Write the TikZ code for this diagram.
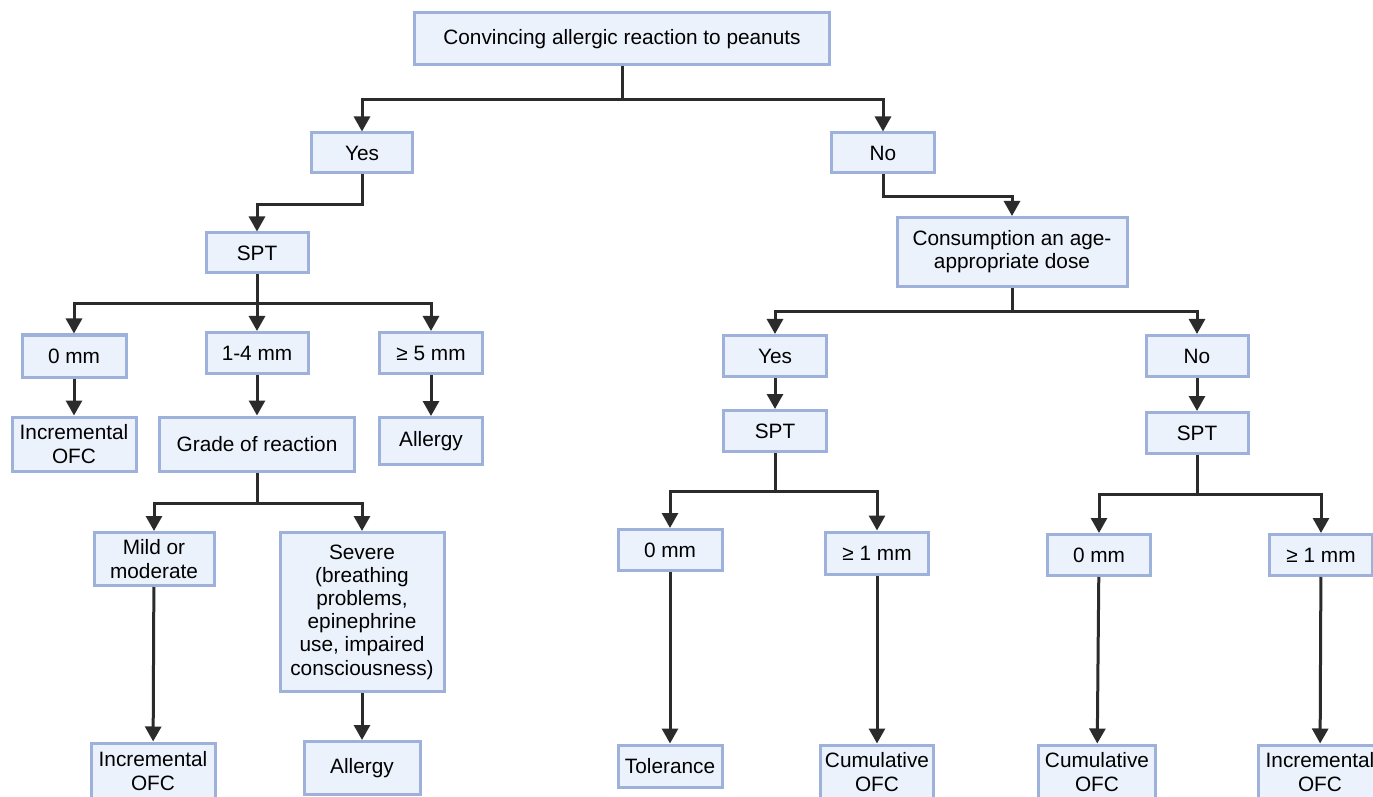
\documentclass[tikz,border=0pt]{standalone}
\usepackage{fontspec}
\setmainfont{Liberation Sans}
\usepackage{xcolor}
\usetikzlibrary{arrows.meta}
\definecolor{boxfill}{HTML}{EBF2FC}
\definecolor{boxline}{HTML}{9DB1DB}
\definecolor{linkgray}{HTML}{2B2B2B}

\begin{document}
\begin{tikzpicture}[x=0.5pt, y=-0.5pt,
  flowbox/.style={draw=boxline, fill=boxfill, line width=1.5pt, align=center, inner sep=0pt,
    font=\fontsize{10.4}{11.6}\selectfont},
  arr/.style={draw=linkgray, line width=1.5pt, -{Triangle[length=7.5pt,width=8pt]}}]
\clip (0,0) rectangle (1373,797);

\node[flowbox, minimum width=207.5pt, minimum height=26pt] (top) at (622, 39) {Convincing allergic reaction to peanuts};
\node[flowbox, minimum width=50.5pt, minimum height=20pt] (yesL) at (362, 153) {Yes};
\node[flowbox, minimum width=51.5pt, minimum height=20pt] (noL) at (883, 153) {No};
\node[flowbox, minimum width=51pt, minimum height=20pt] (sptL) at (257, 253) {SPT};
\node[flowbox, minimum width=115pt, minimum height=34.5pt] (consume) at (1012, 252) {Consumption an age-\\appropriate dose};

\node[flowbox, minimum width=52pt, minimum height=21pt] (zeroA) at (74, 356) {0 mm};
\node[flowbox, minimum width=51pt, minimum height=20.5pt] (oneFourA) at (257, 353) {1-4 mm};
\node[flowbox, minimum width=51.5pt, minimum height=20.5pt] (fiveA) at (431, 353) {≥ 5 mm};
\node[flowbox, minimum width=62pt, minimum height=27pt] (incA) at (74, 444) {Incremental\\OFC};
\node[flowbox, minimum width=97.5pt, minimum height=27pt] (grade) at (257, 444) {Grade of reaction};
\node[flowbox, minimum width=51.5pt, minimum height=23.5pt] (allergyA) at (431, 441) {Allergy};

\node[flowbox, minimum width=51.5pt, minimum height=20.5pt] (yesR) at (775, 356) {Yes};
\node[flowbox, minimum width=51pt, minimum height=20.5pt] (noR) at (1197, 356) {No};
\node[flowbox, minimum width=51.5pt, minimum height=20.5pt] (sptM) at (775, 431) {SPT};
\node[flowbox, minimum width=51pt, minimum height=20.5pt] (sptR) at (1197, 433) {SPT};

\node[flowbox, minimum width=60pt, minimum height=26.5pt] (mild) at (154, 559) {Mild or\\moderate};
\node[flowbox, minimum width=82pt, minimum height=79.5pt] (severe) at (362, 612) {Severe\\(breathing\\problems,\\epinephrine\\use, impaired\\consciousness)};
\node[flowbox, minimum width=52pt, minimum height=20.5pt] (zeroB) at (670, 550) {0 mm};
\node[flowbox, minimum width=51.5pt, minimum height=21pt] (oneB) at (877, 553) {≥ 1 mm};
\node[flowbox, minimum width=51.5pt, minimum height=20.5pt] (zeroC) at (1099, 555) {0 mm};
\node[flowbox, minimum width=51.5pt, minimum height=20.5pt] (oneC) at (1321, 555) {≥ 1 mm};

\node[flowbox, minimum width=62pt, minimum height=28pt] (incB) at (153, 771) {Incremental\\OFC};
\node[flowbox, minimum width=58pt, minimum height=26.5pt] (allergyB) at (362, 768) {Allergy};
\node[flowbox, minimum width=52pt, minimum height=21pt] (tolerance) at (670, 766) {Tolerance};
\node[flowbox, minimum width=56.5pt, minimum height=27pt] (cumB) at (877, 772) {Cumulative\\OFC};
\node[flowbox, minimum width=58.5pt, minimum height=27pt] (cumC) at (1097, 772) {Cumulative\\OFC};
\node[flowbox, minimum width=62pt, minimum height=27pt] (incC) at (1320, 772) {Incremental\\OFC};

\draw[arr] (top.south) -- ++(0,33) -| (yesL);
\draw[arr] (top.south) -- ++(0,33) -| (noL);
\draw[arr] (yesL.south) -- ++(0,30) -| (sptL);
\draw[arr] (noL.south) -- ++(0,22) -| (consume);

\draw[arr] (sptL.south) -- ++(0,29) -| (zeroA);
\draw[arr] (sptL) -- (oneFourA);
\draw[arr] (sptL.south) -- ++(0,29) -| (fiveA);
\draw[arr] (zeroA) -- (incA);
\draw[arr] (oneFourA) -- (grade);
\draw[arr] (fiveA) -- (allergyA);
\draw[arr] (grade.south) -- ++(0,31) -| (mild);
\draw[arr] (grade.south) -- ++(0,31) -| (severe);
\draw[arr] (mild) -- (incB);
\draw[arr] (severe) -- (allergyB);

\draw[arr] (consume.south) -- ++(0,23.5) -| (yesR);
\draw[arr] (consume.south) -- ++(0,23.5) -| (noR);
\draw[arr] (yesR) -- (sptM);
\draw[arr] (noR) -- (sptR);
\draw[arr] (sptM.south) -- ++(0,38.5) -| (zeroB);
\draw[arr] (sptM.south) -- ++(0,38.5) -| (oneB);
\draw[arr] (sptR.south) -- ++(0,39.5) -| (zeroC);
\draw[arr] (sptR.south) -- ++(0,39.5) -| (oneC);
\draw[arr] (zeroB) -- (tolerance);
\draw[arr] (oneB) -- (cumB);
\draw[arr] (zeroC) -- (cumC);
\draw[arr] (oneC) -- (incC);
\end{tikzpicture}
\end{document}
